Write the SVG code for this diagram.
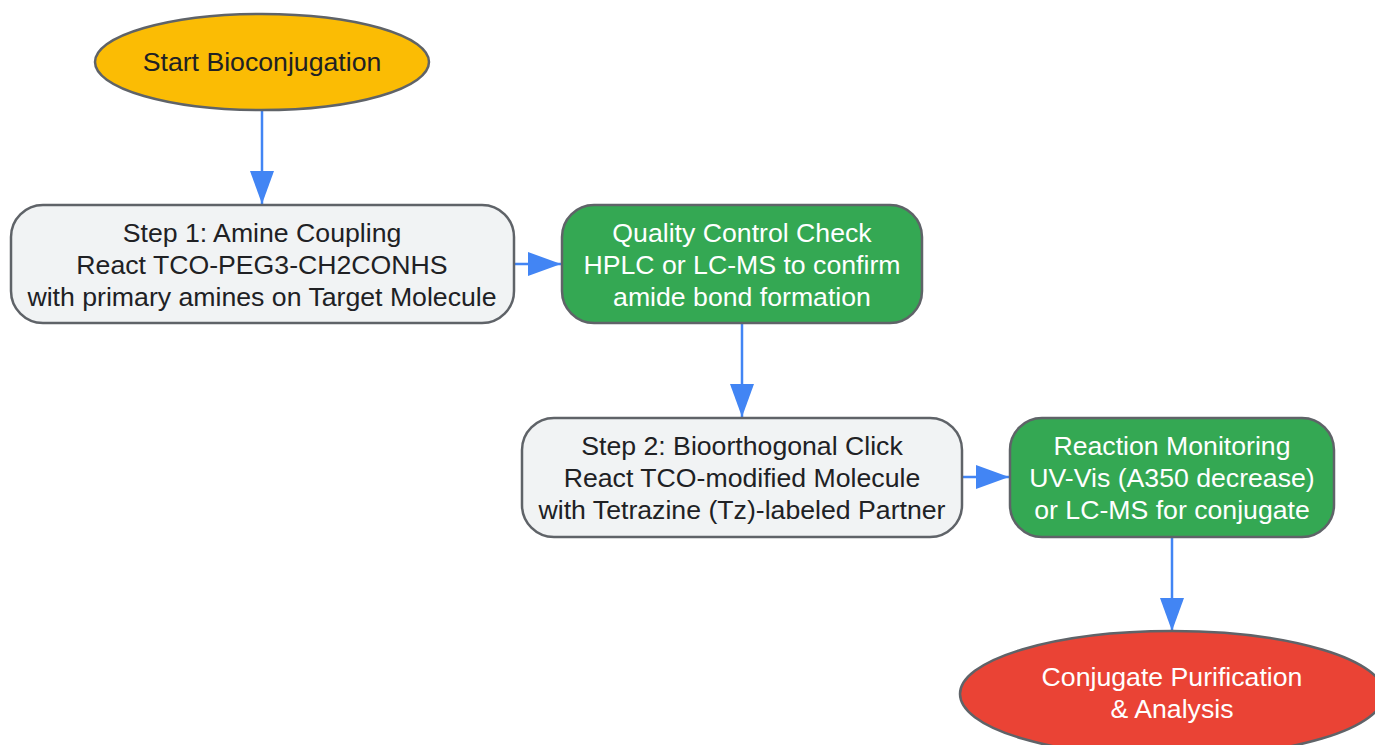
<svg xmlns="http://www.w3.org/2000/svg" width="1375" height="745" viewBox="0 0 1375 745">
<style>
.nd{stroke:#5f6368;stroke-width:2.5}
.t{font-family:"Liberation Sans",Arial,sans-serif;font-size:26.67px;text-anchor:middle}
.dk{fill:#202124}
.wh{fill:#ffffff}
.e{stroke:#4285F4;stroke-width:2.5;fill:none}
</style>
<defs>
<marker id="ah" markerUnits="userSpaceOnUse" markerWidth="34" markerHeight="24" refX="33" refY="12" orient="auto">
<path d="M0,0 L33,12 L0,24 Z" fill="#4285F4"/>
</marker>
</defs>
<rect width="1375" height="745" fill="#ffffff"/>
<g id="connectors">
<line class="e" x1="262" y1="110" x2="262" y2="204" marker-end="url(#ah)"/>
<line class="e" x1="514" y1="264" x2="561" y2="264" marker-end="url(#ah)"/>
<line class="e" x1="742" y1="323" x2="742" y2="417" marker-end="url(#ah)"/>
<line class="e" x1="962" y1="477" x2="1009" y2="477" marker-end="url(#ah)"/>
<line class="e" x1="1172" y1="537" x2="1172" y2="631" marker-end="url(#ah)"/>
</g>
<g id="start">
<ellipse class="nd" cx="262" cy="62" rx="167" ry="48" fill="#FBBC04"/>
<text class="t dk" x="262" y="70.5">Start Bioconjugation</text>
</g>
<g id="step1">
<rect class="nd" x="11" y="205" width="503" height="118" rx="32" fill="#F1F3F4"/>
<text class="t dk" x="262" y="241.5">Step 1: Amine Coupling</text>
<text class="t dk" x="262" y="273.5">React TCO-PEG3-CH2CONHS</text>
<text class="t dk" x="262" y="305.5">with primary amines on Target Molecule</text>
</g>
<g id="qc">
<rect class="nd" x="562" y="205" width="360" height="118" rx="32" fill="#34A853"/>
<text class="t wh" x="742" y="241.5">Quality Control Check</text>
<text class="t wh" x="742" y="273.5">HPLC or LC-MS to confirm</text>
<text class="t wh" x="742" y="305.5">amide bond formation</text>
</g>
<g id="step2">
<rect class="nd" x="522" y="418" width="440" height="119" rx="32" fill="#F1F3F4"/>
<text class="t dk" x="742" y="454.5">Step 2: Bioorthogonal Click</text>
<text class="t dk" x="742" y="486.5">React TCO-modified Molecule</text>
<text class="t dk" x="742" y="518.5">with Tetrazine (Tz)-labeled Partner</text>
</g>
<g id="monitor">
<rect class="nd" x="1010" y="418" width="324" height="119" rx="32" fill="#34A853"/>
<text class="t wh" x="1172" y="454.5">Reaction Monitoring</text>
<text class="t wh" x="1172" y="486.5">UV-Vis (A350 decrease)</text>
<text class="t wh" x="1172" y="518.5">or LC-MS for conjugate</text>
</g>
<g id="end">
<ellipse class="nd" cx="1172" cy="694" rx="212" ry="63" fill="#EA4335"/>
<text class="t wh" x="1172" y="685.5">Conjugate Purification</text>
<text class="t wh" x="1172" y="717.5">&amp; Analysis</text>
</g>
</svg>
